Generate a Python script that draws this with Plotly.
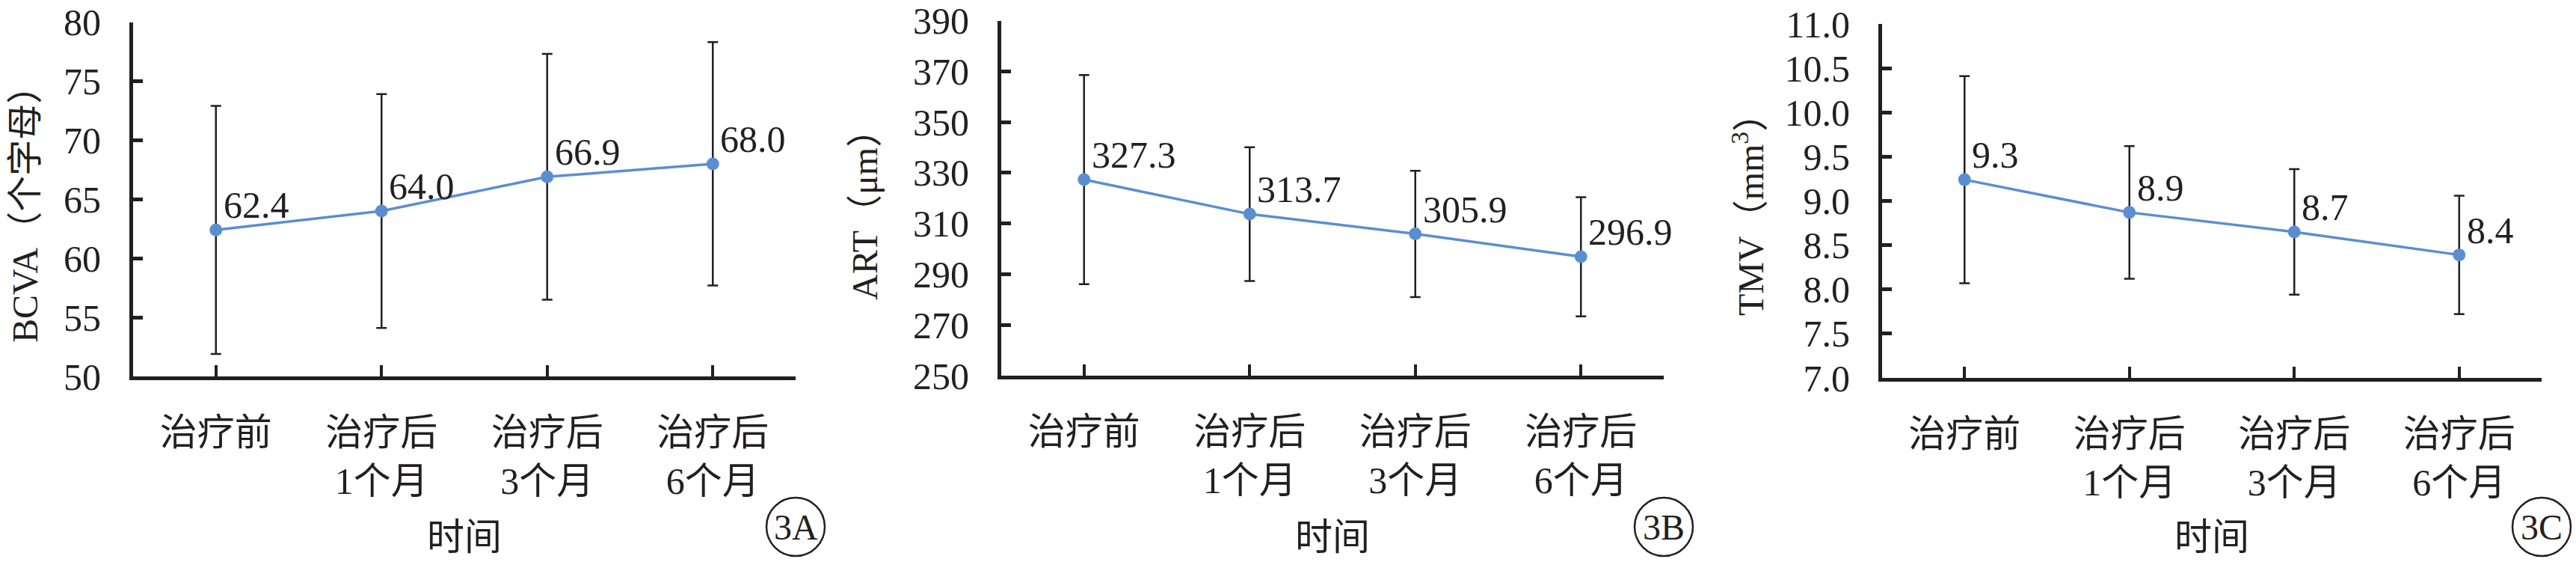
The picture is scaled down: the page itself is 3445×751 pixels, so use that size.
import plotly.graph_objects as go

W, H = 3445, 751

categories = ["治疗前", "治疗后<br>1个月", "治疗后<br>3个月", "治疗后<br>6个月"]

bcva_mean = [62.4, 64.0, 66.9, 68.0]
bcva_sd = [10.5, 9.9, 10.4, 10.3]
bcva_labels = ["62.4", "64.0", "66.9", "68.0"]

art_mean = [327.3, 313.7, 305.9, 296.9]
art_sd = [41.2, 26.4, 24.9, 23.5]
art_labels = ["327.3", "313.7", "305.9", "296.9"]

tmv_mean = [9.24, 8.87, 8.65, 8.39]
tmv_sd = [1.17, 0.75, 0.71, 0.67]
tmv_labels = ["9.3", "8.9", "8.7", "8.4"]

panels = [
    dict(mean=bcva_mean, sd=bcva_sd, labels=bcva_labels, ytitle="BCVA（个字母）",
         yrange=[50, 80], dtick=5, fmt="d", xpx=(178, 1064), ypx=(29.5, 503),
         titlex=33, tag="3A"),
    dict(mean=art_mean, sd=art_sd, labels=art_labels, ytitle="ART（μm）",
         yrange=[250, 390], dtick=20, fmt="d", xpx=(1339, 2225), ypx=(27.5, 502),
         titlex=1156, tag="3B"),
    dict(mean=tmv_mean, sd=tmv_sd, labels=tmv_labels, ytitle="TMV（mm<sup>3</sup>）",
         yrange=[7.0, 11.0], dtick=0.5, fmt=".1f", xpx=(2517, 3399), ypx=(32, 505),
         titlex=2338, tag="3C"),
]

FONT = "Liberation Serif, Noto Sans CJK SC, serif"
BLACK = "#231f20"
BLUE = "#5B8ED0"
FS = 50


def px_x(v):
    return v / W


def px_y(v):
    return 1 - v / H


fig = go.Figure()
layout = dict(
    width=W, height=H,
    margin=dict(l=0, r=0, t=0, b=0, pad=0, autoexpand=False),
    paper_bgcolor="white", plot_bgcolor="white",
    showlegend=False,
    font=dict(family=FONT, size=FS, color=BLACK),
)
annotations = []
shapes = []

for i, p in enumerate(panels):
    n = "" if i == 0 else str(i + 1)
    xa, ya = "x" + n, "y" + n
    fig.add_trace(go.Scatter(
        x=list(range(len(categories))), y=p["mean"], xaxis=xa, yaxis=ya,
        mode="lines+markers",
        line=dict(color=BLUE, width=3.5),
        marker=dict(color=BLUE, size=17),
        error_y=dict(type="data", array=p["sd"], visible=True, color=BLACK,
                     thickness=2.5, width=7),
        hoverinfo="skip",
    ))
    x0, x1 = p["xpx"]
    yt, yb = p["ypx"]
    layout["xaxis" + n] = dict(
        domain=[px_x(x0), px_x(x1)], anchor=ya, automargin=False,
        range=[-0.5, len(categories) - 0.5],
        tickmode="array", tickvals=list(range(len(categories))), ticktext=categories,
        showline=True, linewidth=5, linecolor=BLACK,
        ticks="inside", ticklen=15, tickwidth=4, tickcolor=BLACK,
        showgrid=False, zeroline=False, fixedrange=True,
        tickfont=dict(family=FONT, size=FS, color=BLACK),
        ticklabelstandoff=27, ticklabeloverflow="allow",
    )
    layout["yaxis" + n] = dict(
        domain=[px_y(yb), px_y(yt)], anchor=xa, automargin=False,
        range=p["yrange"], dtick=p["dtick"], tick0=p["yrange"][0], tickformat=p["fmt"],
        showline=True, linewidth=5, linecolor=BLACK,
        ticks="inside", ticklen=13, tickwidth=5, tickcolor=BLACK,
        showgrid=False, zeroline=False, fixedrange=True,
        tickfont=dict(family=FONT, size=FS, color=BLACK),
        ticklabelstandoff=28, ticklabeloverflow="allow",
    )
    # data labels
    for j, (m, lab) in enumerate(zip(p["mean"], p["labels"])):
        annotations.append(dict(
            x=j, y=m, xref=xa, yref=ya, text=lab, showarrow=False,
            xanchor="left", yanchor="middle", xshift=8, yshift=33,
            font=dict(family=FONT, size=FS, color=BLACK),
        ))
    # y-axis title
    annotations.append(dict(
        x=px_x(p["titlex"]), y=px_y(275), xref="paper", yref="paper",
        text=p["ytitle"], textangle=-90, showarrow=False,
        xanchor="center", yanchor="middle",
        font=dict(family=FONT, size=48, color=BLACK),
    ))
    # x-axis title
    annotations.append(dict(
        x=px_x((x0 + x1) / 2), y=px_y(718), xref="paper", yref="paper",
        text="时间", showarrow=False, xanchor="center", yanchor="middle",
        font=dict(family=FONT, size=FS, color=BLACK),
    ))
    # panel tag in a circle
    cx, cy, r = x1, 704, 39
    shapes.append(dict(
        type="circle", xref="paper", yref="paper",
        x0=px_x(cx - r), x1=px_x(cx + r), y0=px_y(cy + r), y1=px_y(cy - r),
        line=dict(color=BLACK, width=2.5),
    ))
    annotations.append(dict(
        x=px_x(cx), y=px_y(cy), xref="paper", yref="paper",
        text=p["tag"], showarrow=False, xanchor="center", yanchor="middle",
        font=dict(family=FONT, size=48, color=BLACK),
    ))

layout["annotations"] = annotations
layout["shapes"] = shapes
fig.update_layout(**layout)
fig.write_html(
    "out.html",
    config={"displayModeBar": False, "staticPlot": True},
    post_script="document.body.style.margin='0';document.body.style.overflow='hidden';",
)
